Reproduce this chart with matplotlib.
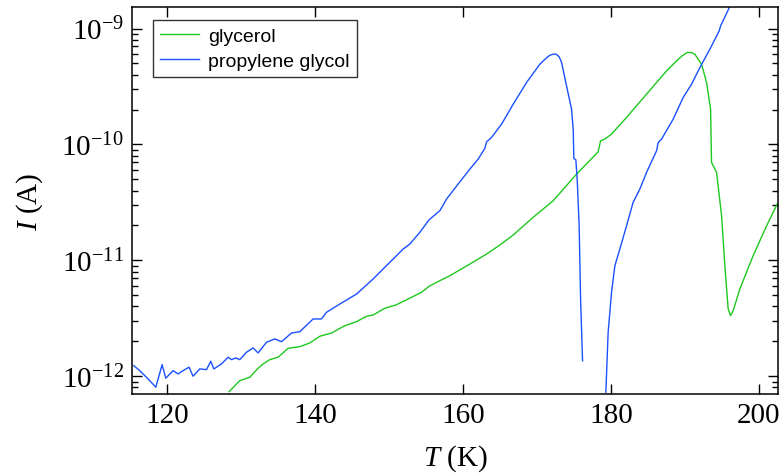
import numpy as np
import matplotlib
matplotlib.use("Agg")
import matplotlib.pyplot as plt
from matplotlib.ticker import LogLocator, FixedLocator, NullLocator

plt.rcParams["font.family"] = ["Liberation Serif", "DejaVu Serif"]
plt.rcParams["mathtext.fontset"] = "custom"
plt.rcParams["mathtext.rm"] = "Liberation Serif"
plt.rcParams["mathtext.it"] = "Liberation Serif:italic"

# propylene glycol: temperature (K) and log10 current (A); NaN marks the gap
pg_T = [115.44, 116.25, 117.37, 118.42, 119.27, 119.77, 120.76, 121.43, 122.11, 122.92,
        123.46, 124.37, 125.28, 125.86, 126.27, 127.31, 128.20, 128.66, 129.24, 129.78,
        130.69, 131.58, 132.26, 133.40, 134.52, 135.43, 136.78, 137.90, 139.70, 140.84,
        141.52, 143.55, 145.58, 147.82, 149.17, 150.53, 151.88, 152.79, 154.14, 155.40,
        156.85, 157.75, 159.32, 160.91, 162.03, 162.94, 163.17, 163.84, 165.20, 166.77,
        168.58, 170.38, 171.00, 171.50, 171.85, 172.18, 172.50, 172.72, 173.00, 173.32,
        173.99, 174.67, 174.89, 174.98,
        175.25, 175.43, 175.70, 175.89, 176.16, 177.5,
        179.31, 179.62, 180.08, 180.53, 181.20, 182.11, 183.00, 183.91, 184.82, 186.17,
        186.39, 186.85, 188.42, 189.77, 190.91, 192.04, 193.39, 194.64, 194.83, 195.86,
        196.36]
pg_logI = [-11.909, -11.952, -12.023, -12.095, -11.900, -12.017, -11.952, -11.980, -11.952, -11.922,
           -12.000, -11.937, -11.943, -11.871, -11.937, -11.894, -11.836, -11.857, -11.842, -11.857,
           -11.793, -11.756, -11.799, -11.707, -11.678, -11.702, -11.627, -11.616, -11.506, -11.506,
           -11.448, -11.368, -11.291, -11.161, -11.075, -10.989, -10.903, -10.859, -10.759, -10.650,
           -10.572, -10.472, -10.342, -10.213, -10.127, -10.034, -9.978, -9.940, -9.825, -9.653,
           -9.466, -9.308, -9.270, -9.241, -9.228, -9.222, -9.220, -9.228, -9.245, -9.293,
           -9.495, -9.696, -9.868, -10.121,
           -10.133, -10.299, -10.702, -11.334, -11.866, np.nan,
           -12.138, -11.621, -11.276, -11.047, -10.903, -10.702, -10.500, -10.385, -10.241, -10.055,
           -9.983, -9.954, -9.782, -9.595, -9.480, -9.336, -9.178, -9.021, -8.978, -8.840,
           -8.765]

# glycerol
gl_T = [128.34, 129.78, 131.14, 132.26, 132.94, 133.84, 134.97, 136.32, 137.90, 139.26,
        140.62, 142.19, 143.99, 145.58, 146.93, 147.82, 149.40, 150.99, 153.02, 154.37,
        155.40, 156.40, 158.20, 160.91, 163.17, 164.97, 166.77, 169.47, 172.18, 175.35,
        178.27, 178.59, 179.17, 180.08, 182.11, 184.82, 187.52, 188.88, 189.60, 190.31,
        190.85, 191.35, 192.26, 192.94, 193.48, 193.61, 194.29, 194.97, 195.41, 195.86,
        196.18, 196.54, 197.44, 199.24, 201.06, 202.49]
gl_logI = [-12.133, -12.038, -12.009, -11.931, -11.894, -11.857, -11.836, -11.759, -11.745, -11.713,
           -11.655, -11.627, -11.564, -11.529, -11.483, -11.472, -11.414, -11.383, -11.319, -11.276,
           -11.224, -11.190, -11.133, -11.032, -10.946, -10.868, -10.782, -10.629, -10.486, -10.256,
           -10.064, -9.969, -9.954, -9.911, -9.767, -9.566, -9.366, -9.279, -9.237, -9.207,
           -9.207, -9.222, -9.308, -9.466, -9.696, -10.155, -10.241, -10.616, -11.047, -11.420,
           -11.478, -11.434, -11.247, -10.960, -10.702, -10.515]

x_ticks = [120, 140, 160, 180, 200]
y_ticks = [1e-12, 1e-11, 1e-10, 1e-9]
y_ticklabels = ["$10^{-12}$", "$10^{-11}$", "$10^{-10}$", "$10^{-9}$"]

fig = plt.figure(figsize=(7.83, 4.77), dpi=100)
ax = fig.add_axes([0.1686, 0.172, 0.825, 0.811])

ax.plot(gl_T, 10 ** np.array(gl_logI), color="#1ec81e", lw=1.0, label="glycerol")
ax.plot(pg_T, 10 ** np.array(pg_logI), color="#1a50ff", lw=1.0, label="propylene glycol")

ax.set_yscale("log")
ax.set_xlim(115.2, 202.6)
ax.set_ylim(7.03e-13, 1.53e-9)

ax.xaxis.set_major_locator(FixedLocator(x_ticks))
ax.xaxis.set_minor_locator(NullLocator())
ax.set_yticks(y_ticks)
ax.set_yticklabels(y_ticklabels)
ax.yaxis.set_minor_locator(LogLocator(base=10, subs=np.arange(2, 10)))

ax.tick_params(which="both", direction="in", top=True, right=True, width=1.0)
ax.tick_params(which="major", length=7, labelsize=21, pad=6)
ax.tick_params(which="minor", length=4)
for s in ax.spines.values():
    s.set_linewidth(1.1)

ax.set_xlabel("$\\mathit{T}$ (K)", fontsize=21, labelpad=10)
ax.set_ylabel("$\\mathit{I}$ (A)", fontsize=21, labelpad=12)

leg = ax.legend(loc="upper left", bbox_to_anchor=(0.0325, 0.966), borderaxespad=0,
                prop={"family": "Liberation Sans", "size": 14},
                frameon=True, fancybox=False, edgecolor="black",
                handlelength=2.0, handletextpad=0.5, labelspacing=0.4, borderpad=0.35)
leg.get_frame().set_linewidth(1.0)

fig.savefig("out.png", dpi=100)
